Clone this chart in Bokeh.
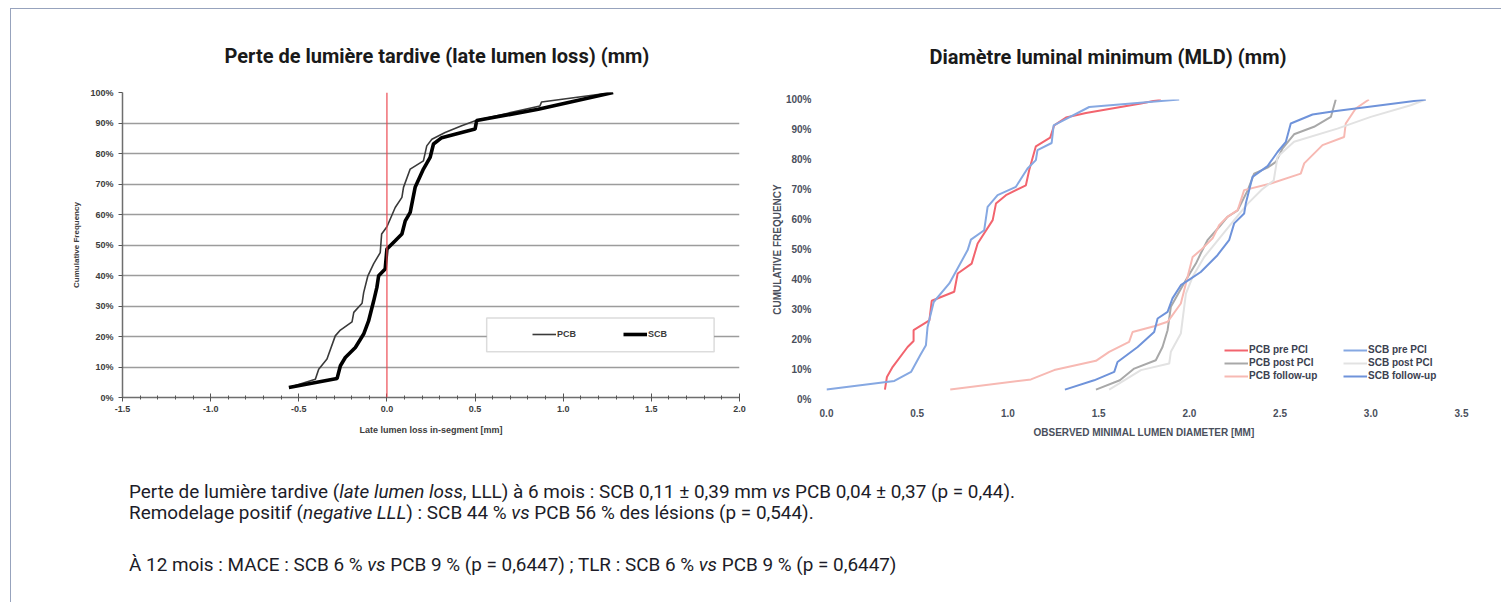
from bokeh.plotting import figure
from bokeh.models import (Span, BoxAnnotation, Legend, LegendItem, FixedTicker,
                          PrintfTickFormatter, Div)
from bokeh.layouts import column, row
from bokeh.embed import file_html
from bokeh.resources import INLINE

# ---------------- Data: left chart (late lumen loss, mm ; cumulative %) ----------------
pcb_lll_x = [-0.556, -0.406, -0.387, -0.34, -0.293, -0.264, -0.198, -0.188, -0.141, -0.132,
             -0.108, -0.075, -0.038, -0.03, 0.0, 0.047, 0.085, 0.094, 0.132, 0.207, 0.226,
             0.255, 0.33, 0.424, 0.509, 0.868, 0.877, 1.283]
pcb_lll_y = [3.3, 6.0, 9.3, 12.6, 20.2, 22.1, 24.8, 27.9, 30.9, 34.4,
             39.9, 43.9, 47.5, 53.6, 56.0, 62.3, 65.6, 68.9, 74.9, 77.6, 82.5,
             84.7, 86.9, 89.1, 90.9, 95.6, 96.9, 100.0]
scb_lll_x = [-0.556, -0.283, -0.264, -0.236, -0.179, -0.132, -0.104, -0.075, -0.057, -0.047,
             -0.01, 0.0, 0.047, 0.085, 0.104, 0.132, 0.16, 0.207, 0.245, 0.264, 0.311,
             0.424, 0.5, 0.509, 0.858, 1.283]
scb_lll_y = [3.3, 6.2, 10.4, 13.1, 16.4, 20.8, 25.1, 31.7, 36.1, 39.9,
             42.1, 48.7, 51.4, 53.6, 57.9, 60.7, 68.9, 74.9, 78.7, 83.1, 85.2,
             86.9, 88.0, 90.8, 94.5, 100.0]

lll_ticks = [-1.5, -1.0, -0.5, 0.0, 0.5, 1.0, 1.5, 2.0]
pct_ticks = [0, 10, 20, 30, 40, 50, 60, 70, 80, 90, 100]

# ---------------- Data: right chart (MLD, mm ; cumulative %) ----------------
pcb_pre_x = [0.322, 0.333, 0.365, 0.447, 0.48, 0.48, 0.567, 0.58, 0.704, 0.723, 0.8, 0.833,
             0.916, 0.934, 0.989, 1.099, 1.117, 1.154, 1.233, 1.255, 1.32, 1.43, 1.733, 1.843]
pcb_pre_y = [3.3, 7.5, 10.9, 17.5, 19.5, 23.1, 26.4, 32.9, 35.9, 42.0, 45.3, 52.0,
             59.8, 65.3, 68.1, 71.4, 76.4, 84.4, 87.3, 91.4, 94.0, 95.5, 98.7, 100.0]
scb_pre_x = [0.0, 0.374, 0.466, 0.517, 0.548, 0.557, 0.591, 0.677, 0.778, 0.796, 0.869,
             0.888, 0.943, 1.044, 1.108, 1.154, 1.163, 1.241, 1.252, 1.448, 1.944]
scb_pre_y = [3.3, 6.2, 9.2, 14.8, 18.1, 24.2, 32.5, 38.7, 49.8, 53.3, 56.4,
             64.2, 68.1, 70.9, 77.0, 79.8, 83.1, 85.5, 91.4, 97.5, 100.0]
pcb_post_x = [1.485, 1.617, 1.696, 1.815, 1.852, 1.88, 1.898, 1.981, 2.036, 2.063, 2.1, 2.164,
              2.21, 2.266, 2.322, 2.357, 2.431, 2.477, 2.513, 2.577, 2.687, 2.78, 2.807]
pcb_post_y = [3.3, 6.4, 10.3, 13.1, 17.5, 23.1, 30.9, 39.8, 45.3, 48.7, 53.1, 57.5,
              60.9, 63.0, 69.8, 75.3, 77.3, 79.2, 83.6, 88.4, 90.9, 94.2, 100.0]
scb_post_x = [1.558, 1.733, 1.889, 1.898, 1.953, 1.981, 2.018, 2.082, 2.247, 2.322, 2.40,
              2.465, 2.486, 2.577, 2.816, 3.0, 3.22, 3.303]
scb_post_y = [3.3, 9.8, 12.0, 15.9, 22.0, 35.3, 40.9, 47.5, 59.8, 65.3, 70.0,
              73.0, 80.9, 85.9, 90.3, 94.2, 98.1, 100.0]
pcb_fu_x = [0.682, 1.127, 1.255, 1.485, 1.558, 1.668, 1.687, 1.806, 1.88, 1.953, 1.981, 2.018,
            2.063, 2.128, 2.164, 2.21, 2.266, 2.284, 2.302, 2.449, 2.614, 2.633, 2.734, 2.853,
            2.862, 2.917, 2.99]
pcb_fu_y = [3.3, 6.7, 9.8, 12.9, 15.9, 19.2, 22.5, 24.4, 25.9, 32.0, 38.7, 47.5,
            49.8, 53.7, 58.1, 60.9, 63.1, 66.4, 69.8, 72.0, 75.3, 78.7, 84.8, 87.5,
            92.0, 97.0, 100.0]
scb_fu_x = [1.314, 1.475, 1.586, 1.604, 1.715, 1.806, 1.825, 1.88, 1.907, 1.953, 2.008, 2.063,
            2.155, 2.219, 2.247, 2.302, 2.311, 2.348, 2.431, 2.486, 2.532, 2.559, 2.679, 2.798,
            3.303]
scb_fu_y = [3.3, 6.4, 9.2, 12.5, 17.5, 22.5, 27.0, 29.2, 33.7, 38.1, 40.3, 42.5,
            48.1, 53.1, 58.7, 62.0, 65.3, 74.2, 77.8, 82.5, 85.9, 92.0, 95.0, 96.1,
            100.0]
mld_ticks = [0.0, 0.5, 1.0, 1.5, 2.0, 2.5, 3.0, 3.5]

FONT_N = "Roboto"
FONT_A = "Liberation Sans"

# ---------------- Left figure ----------------
p1 = figure(width=752, height=439, output_backend="svg", toolbar_location=None,
            x_range=(-1.5, 2.0), y_range=(0, 100),
            min_border_left=111, min_border_right=24, min_border_top=83, min_border_bottom=51)
p1.title.text = "Perte de lumière tardive (late lumen loss) (mm)"
p1.title.text_font = FONT_N
p1.title.text_font_size = "20px"
p1.title.text_font_style = "bold"
p1.title.text_color = "#1a1a1a"
p1.title.align = "left"
p1.title.offset = 102
p1.title.standoff = 49
p1.outline_line_color = None
p1.xgrid.grid_line_color = None
p1.ygrid.ticker = FixedTicker(ticks=pct_ticks)
p1.ygrid.grid_line_color = "#9c9c9c"
p1.ygrid.grid_line_width = 1.6

p1.xaxis.ticker = FixedTicker(ticks=lll_ticks, minor_ticks=[round(-1.5 + 0.1 * i, 1) for i in range(36)])
p1.xaxis.formatter = PrintfTickFormatter(format="%.1f")
p1.yaxis.ticker = FixedTicker(ticks=pct_ticks)
p1.yaxis.formatter = PrintfTickFormatter(format="%d%%")
for ax in (p1.xaxis[0], p1.yaxis[0]):
    ax.axis_line_color = "#6e6e6e"
    ax.axis_line_width = 1.5
    ax.major_tick_line_color = "#555555"
    ax.minor_tick_line_color = "#555555"
    ax.major_label_text_font = FONT_A
    ax.major_label_text_font_style = "bold"
    ax.major_label_text_font_size = "9px"
    ax.major_label_text_color = "#3c3c3c"
    ax.axis_label_text_font = FONT_A
    ax.axis_label_text_font_style = "bold"
    ax.axis_label_text_color = "#3c3c3c"
p1.xaxis.major_tick_in = 4
p1.xaxis.major_tick_out = 4
p1.xaxis.minor_tick_in = 2
p1.xaxis.minor_tick_out = 2
p1.xaxis.major_label_standoff = 4
p1.xaxis.axis_label = "Late lumen loss in-segment [mm]"
p1.xaxis.axis_label_text_font_size = "9px"
p1.xaxis.axis_label_standoff = 10
p1.yaxis.major_tick_in = 0
p1.yaxis.major_tick_out = 4
p1.yaxis.minor_tick_line_color = None
p1.yaxis.major_label_standoff = 5
p1.yaxis.axis_label = "Cumulative Frequency"
p1.yaxis.axis_label_text_font_size = "8px"
p1.yaxis.axis_label_standoff = 6

r_pcb = p1.line(pcb_lll_x, pcb_lll_y, line_color="#3a3a3a", line_width=1.6)
r_scb = p1.line(scb_lll_x, scb_lll_y, line_color="#000000", line_width=3.6)
p1.add_layout(Span(location=0, dimension="height", line_color="#ec4a52", line_width=1.2))
p1.add_layout(BoxAnnotation(left=0.566, right=1.856, bottom=15.0, top=26.1,
                            fill_color="white", fill_alpha=1.0,
                            line_color="#8a8a8a", line_width=1.5))
leg1 = Legend(items=[LegendItem(label="PCB", renderers=[r_pcb]),
                     LegendItem(label="SCB", renderers=[r_scb])],
              orientation="horizontal", location=(410, 58),
              glyph_width=24, glyph_height=10, label_standoff=1, spacing=46,
              padding=0, margin=0, label_height=10,
              background_fill_alpha=0, border_line_alpha=0,
              label_text_font=FONT_A, label_text_font_style="bold",
              label_text_font_size="9px", label_text_color="#3c3c3c")
p1.add_layout(leg1)

# ---------------- Right figure ----------------
p2 = figure(width=737, height=439, output_backend="svg", toolbar_location=None,
            x_range=(0, 3.5), y_range=(0, 100),
            min_border_left=63, min_border_right=39, min_border_top=90, min_border_bottom=49)
p2.title.text = "Diamètre luminal minimum (MLD) (mm)"
p2.title.text_font = FONT_N
p2.title.text_font_size = "20px"
p2.title.text_font_style = "bold"
p2.title.text_color = "#1a1a1a"
p2.title.align = "left"
p2.title.offset = 103
p2.title.standoff = 62
p2.outline_line_color = None
p2.grid.grid_line_color = None
p2.xaxis.ticker = FixedTicker(ticks=mld_ticks)
p2.xaxis.formatter = PrintfTickFormatter(format="%.1f")
p2.yaxis.ticker = FixedTicker(ticks=pct_ticks)
p2.yaxis.formatter = PrintfTickFormatter(format="%d%%")
for ax in (p2.xaxis[0], p2.yaxis[0]):
    ax.axis_line_color = None
    ax.major_tick_line_color = None
    ax.minor_tick_line_color = None
    ax.major_label_text_font = FONT_A
    ax.major_label_text_font_style = "bold"
    ax.major_label_text_font_size = "10px"
    ax.major_label_text_color = "#4a4f5c"
    ax.axis_label_text_font = FONT_A
    ax.axis_label_text_font_style = "bold"
    ax.axis_label_text_font_size = "10px"
    ax.axis_label_text_color = "#4a4f5c"
p2.xaxis.major_label_standoff = 3
p2.xaxis.axis_label = "OBSERVED MINIMAL LUMEN DIAMETER [MM]"
p2.xaxis.axis_label_standoff = 7
p2.yaxis.major_label_standoff = 9
p2.yaxis.axis_label = "CUMULATIVE FREQUENCY"
p2.yaxis.axis_label_standoff = 0

lw = 2.0
r1 = p2.line(pcb_pre_x, pcb_pre_y, line_color="#f2646e", line_width=lw)
r2 = p2.line(pcb_post_x, pcb_post_y, line_color="#a8a8a8", line_width=lw)
r3 = p2.line(pcb_fu_x, pcb_fu_y, line_color="#f7b9b3", line_width=lw)
r4 = p2.line(scb_pre_x, scb_pre_y, line_color="#86a8e2", line_width=lw)
r5 = p2.line(scb_post_x, scb_post_y, line_color="#e2e2e2", line_width=lw)
r6 = p2.line(scb_fu_x, scb_fu_y, line_color="#6f93da", line_width=lw)

def mk_leg(items, x):
    return Legend(items=items, orientation="vertical", location=(x, 18),
                  glyph_width=24, glyph_height=10, label_standoff=1, spacing=2,
                  padding=0, margin=0, label_height=11,
                  background_fill_alpha=0, border_line_alpha=0,
                  label_text_font=FONT_A, label_text_font_style="bold",
                  label_text_font_size="10px", label_text_color="#3b4150")

p2.add_layout(mk_leg([LegendItem(label="PCB pre PCI", renderers=[r1]),
                      LegendItem(label="PCB post PCI", renderers=[r2]),
                      LegendItem(label="PCB follow-up", renderers=[r3])], 398))
p2.add_layout(mk_leg([LegendItem(label="SCB pre PCI", renderers=[r4]),
                      LegendItem(label="SCB post PCI", renderers=[r5]),
                      LegendItem(label="SCB follow-up", renderers=[r6])], 517))

# ---------------- Text below ----------------
html = (
    "<div style=\"font-family:Roboto, sans-serif; font-size:18.9px; color:#1c1c28;"
    " line-height:21px; padding-left:113px; padding-top:28px; white-space:nowrap\">"
    "Perte de lumière tardive (<i>late lumen loss</i>, LLL) à 6 mois : SCB 0,11 ± 0,39 mm "
    "<i>vs</i> PCB 0,04 ± 0,37 (p = 0,44).<br>"
    "Remodelage positif (<i>negative LLL</i>) : SCB 44 % <i>vs</i> PCB 56 % des lésions (p = 0,544)."
    "<div style=\"margin-top:31px\">À 12 mois : MACE : SCB 6 % <i>vs</i> PCB 9 % (p = 0,6447) ; "
    "TLR : SCB 6 % <i>vs</i> PCB 9 % (p = 0,6447)</div></div>"
)
txt = Div(text=html, width=1489, height=150)

layout = column(row(column(p1), column(p2)), txt,
                styles={"border-top": "1px solid #97a3bd", "border-left": "1px solid #97a3bd",
                        "margin-left": "10px", "margin-top": "8px"})

open("out.html", "w").write(file_html(layout, INLINE))
